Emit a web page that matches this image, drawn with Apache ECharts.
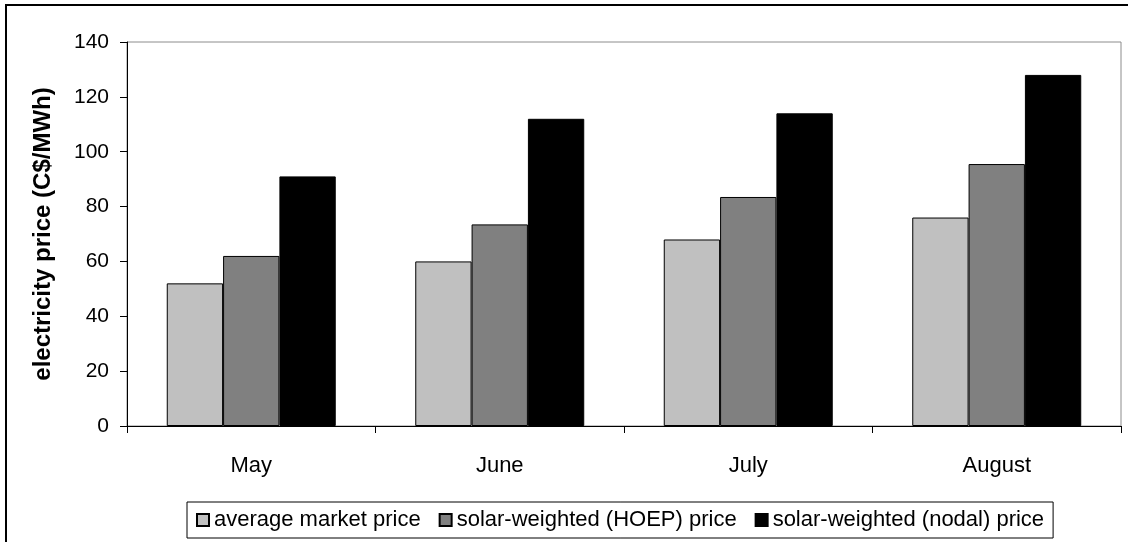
<!DOCTYPE html>
<html>
<head>
<meta charset="utf-8">
<script src="https://cdn.jsdelivr.net/npm/echarts@6/dist/echarts.min.js"></script>
<style>
  html, body { margin: 0; padding: 0; background: #fff; overflow: hidden; }
  #frame { position: absolute; left: 5px; top: 4px; width: 1200px; height: 600px; border: 2px solid #000; box-sizing: border-box; }
  #chart { position: absolute; left: 0; top: 0; width: 1128px; height: 542px; }
</style>
</head>
<body>
<div id="frame"></div>
<div id="chart"></div>
<script>
const months = ['May', 'June', 'July', 'August'];
const averageMarket = [52, 60, 68, 76];
const solarHOEP = [62, 73.5, 83.5, 95.5];
const solarNodal = [91, 112, 114, 128];
const seriesNames = ['average market price', 'solar-weighted (HOEP) price', 'solar-weighted (nodal) price'];
const yTicks = { min: 0, max: 140, interval: 20 };

const FONT = '"Liberation Sans", Arial, sans-serif';
const chart = echarts.init(document.getElementById('chart'), null, { renderer: 'canvas' });

function barSeries(name, data, color) {
  return {
    name: name,
    type: 'bar',
    data: data,
    barGap: '0%',
    barCategoryGap: '32%',
    itemStyle: { color: color, borderColor: '#000', borderWidth: 1 },
    emphasis: { disabled: true }
  };
}

chart.setOption({
  animation: false,
  textStyle: { fontFamily: FONT },
  grid: {
    left: 127, right: 7, top: 42, bottom: 116,
    show: true, borderColor: '#8c8c8c', borderWidth: 1, backgroundColor: 'transparent'
  },
  legend: {
    data: seriesNames,
    bottom: 4,
    left: 187,
    itemWidth: 12,
    itemHeight: 12,
    itemGap: 18,
    padding: [7, 9, 7, 9],
    borderColor: '#000',
    borderWidth: 1,
    icon: 'rect',
    textStyle: { fontSize: 22, color: '#000', fontFamily: FONT, padding: [0, 0, 0, 0] }
  },
  xAxis: {
    type: 'category',
    data: months,
    axisLine: { lineStyle: { color: '#000', width: 1 } },
    axisTick: { show: true, length: 7, lineStyle: { color: '#000' } },
    axisLabel: { fontSize: 22, color: '#000', margin: 29, fontFamily: FONT },
    splitLine: { show: false }
  },
  yAxis: {
    type: 'value',
    min: yTicks.min,
    max: yTicks.max,
    interval: yTicks.interval,
    name: 'electricity price (C$/MWh)',
    nameLocation: 'middle',
    nameGap: 72,
    nameTextStyle: { fontSize: 24, fontWeight: 'bold', color: '#000', fontFamily: FONT },
    axisLine: { show: true, lineStyle: { color: '#000', width: 1 } },
    axisTick: { show: true, length: 7, lineStyle: { color: '#000' } },
    axisLabel: { fontSize: 21, color: '#000', margin: 18, fontFamily: FONT },
    splitLine: { show: false }
  },
  series: [
    barSeries(seriesNames[0], averageMarket, '#c0c0c0'),
    barSeries(seriesNames[1], solarHOEP, '#808080'),
    barSeries(seriesNames[2], solarNodal, '#000000')
  ]
});
</script>
</body>
</html>
